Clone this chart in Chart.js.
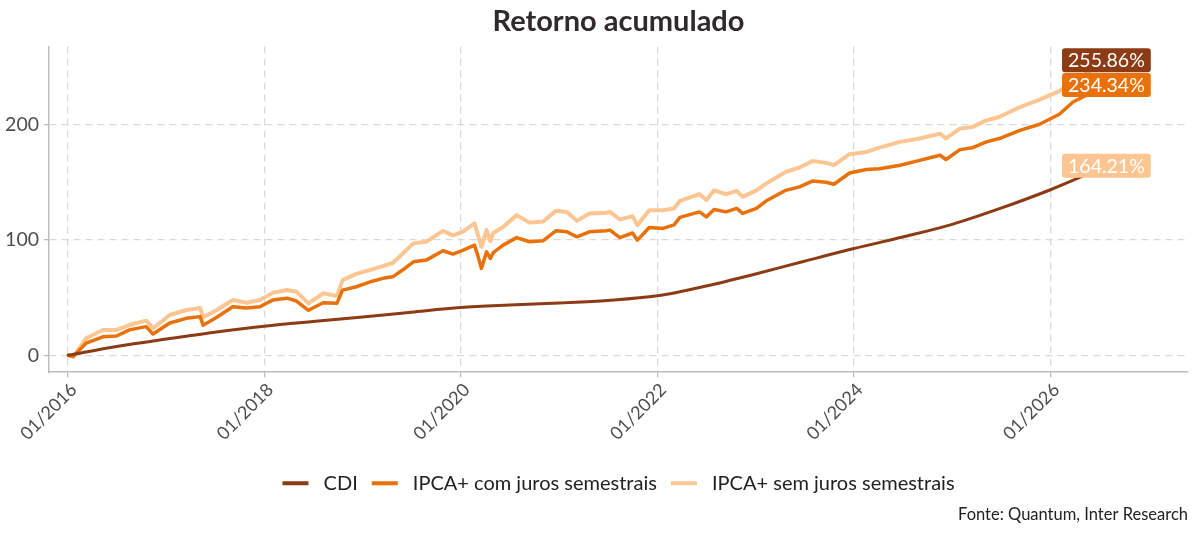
<!DOCTYPE html>
<html lang="pt-BR">
<head>
<meta charset="utf-8">
<title>Retorno acumulado</title>
<script src="https://cdn.jsdelivr.net/npm/chart.js@4.4.1/dist/chart.umd.min.js"></script>
<style>
  html, body { margin: 0; padding: 0; background: #fff; }
  #wrap { position: relative; width: 1200px; height: 533px; }
</style>
</head>
<body>
<div id="wrap"><canvas id="chart"></canvas></div>
<script>
var seriesNames = ["CDI", "IPCA+ com juros semestrais", "IPCA+ sem juros semestrais"];
var seriesColors = ["#8c3b14", "#e8710a", "#fdc591"];
// end labels in the original are filled in reverse palette order
var labelFills = ["#fdc591", "#e8710a", "#8c3b14"];

var tickYears = [2016, 2018, 2020, 2022, 2024, 2026];
var yTicks = [0, 100, 200];

var cdiDates = [
  "2016-01-04", "2016-07-01", "2017-01-01", "2017-07-01", "2018-01-01", "2018-07-01",
  "2019-01-01", "2019-07-01", "2020-01-01", "2020-07-01", "2021-01-01", "2021-07-01",
  "2022-01-01", "2022-07-01", "2023-01-01", "2023-07-01", "2024-01-01", "2024-07-01",
  "2025-01-01", "2025-07-01", "2026-01-01", "2026-07-28"
];
var cdiValues = [
  0, 7.5, 14, 20, 25.2, 29.3, 33.2, 37.3, 41.3, 43.5, 45.3, 47.5,
  51.5, 60, 70.5, 81.5, 92.5, 102.5, 113.5, 127.5, 143.5, 164.21
];

var ipcaDates = [
  "2016-01-04", "2016-01-22", "2016-03-10", "2016-05-11", "2016-07-01", "2016-08-18", "2016-10-19", "2016-11-14", "2017-01-15", "2017-03-18",
  "2017-05-08", "2017-05-19", "2017-07-09", "2017-09-06", "2017-10-27", "2017-12-16", "2018-02-03", "2018-03-26", "2018-05-01", "2018-06-14",
  "2018-08-08", "2018-09-28", "2018-10-19", "2018-12-09", "2019-01-30", "2019-03-18", "2019-04-23", "2019-05-30", "2019-07-09", "2019-08-26",
  "2019-10-27", "2019-12-03", "2020-01-08", "2020-02-21", "2020-03-04", "2020-03-18", "2020-04-06", "2020-04-20", "2020-05-01", "2020-06-07",
  "2020-07-27", "2020-09-13", "2020-11-03", "2020-12-20", "2021-01-30", "2021-03-08", "2021-04-24", "2021-06-25", "2021-07-09", "2021-08-15",
  "2021-10-01", "2021-10-19", "2021-12-02", "2022-01-22", "2022-03-04", "2022-03-26", "2022-06-07", "2022-07-02", "2022-07-31", "2022-09-13",
  "2022-10-23", "2022-11-14", "2023-01-04", "2023-02-10", "2023-04-23", "2023-06-13", "2023-07-31", "2023-09-20", "2023-10-19", "2023-12-16",
  "2024-02-17", "2024-04-05", "2024-06-21", "2024-09-02", "2024-11-17", "2024-12-09", "2025-01-30", "2025-03-18", "2025-05-08", "2025-06-25",
  "2025-09-10", "2025-11-22", "2026-02-03", "2026-03-26", "2026-07-28"
];
var ipcaComValues = [
  0, -1, 10.6, 16, 16.7, 22, 24.8, 18.4, 28, 32,
  33.5, 26, 33, 42, 41, 42, 48, 49.5, 47, 39,
  45.5, 45, 56.5, 59.4, 63.7, 66.7, 68, 73.9, 81, 82.5,
  90.6, 87.7, 91, 95.5, 86.8, 75.3, 89.7, 84, 89, 95.5,
  102, 98.4, 99.3, 107.9, 107, 102.7, 107, 108, 108.5, 102,
  106, 99.8, 110.8, 110, 113, 119.5, 124.3, 120, 126.4, 124.3,
  127.3, 123, 127.3, 133.9, 143, 146, 151, 150, 148.3, 158,
  161, 161.7, 164.8, 169, 173.4, 169.7, 178.3, 180, 185, 187.9,
  195, 200.3, 209, 219.6, 234.34
];
var ipcaSemValues = [
  0, -1.5, 14.7, 21.9, 21.9, 26.2, 30, 23.4, 34.9, 39.2,
  41, 32.9, 39.2, 47.9, 45.5, 47.9, 54.2, 56.5, 55, 45,
  53.7, 51.3, 65.2, 70.5, 74, 77.3, 80, 88, 97, 98.4,
  107.9, 104, 107, 114.3, 105, 94, 108.5, 99, 106, 111.3,
  121.5, 115, 116, 125.2, 124.3, 116.5, 123, 123.5, 124.3, 117.7,
  120.6, 112.8, 125.8, 125.8, 127.3, 133.9, 139.7, 134.5, 143, 139.7,
  142.5, 137.3, 143, 149, 159, 162.8, 168.5, 166.8, 164.8, 174.3,
  176.3, 180, 185, 187.9, 192.2, 188, 196.5, 198, 203.7, 206.6,
  215.2, 221.6, 229, 237, 255.86
];

function toYear(s) {
  var d = Date.parse(s + "T00:00:00Z");
  var y = new Date(d).getUTCFullYear();
  var start = Date.UTC(y, 0, 1);
  var end = Date.UTC(y + 1, 0, 1);
  return y + (d - start) / (end - start);
}

function points(dates, values) {
  return dates.map(function (d, i) {
    return { x: toYear(d), y: values[i] };
  });
}

var lineWidths = [3, 3.5, 4];
var seriesData = [
  points(cdiDates, cdiValues),
  points(ipcaDates, ipcaComValues),
  points(ipcaDates, ipcaSemValues)
];

var endLabels = {
  id: "endLabels",
  afterDatasetsDraw: function (chart) {
    var ctx = chart.ctx;
    var xs = chart.scales.x;
    var ys = chart.scales.y;
    ctx.save();
    ctx.font = "19.5px Lato";
    ctx.textAlign = "center";
    ctx.textBaseline = "middle";
    chart.data.datasets.forEach(function (ds, i) {
      var last = ds.data[ds.data.length - 1];
      var cx = xs.getPixelForValue(last.x);
      var cy = ys.getPixelForValue(last.y);
      var text = last.y.toFixed(2) + "%";
      var w = ctx.measureText(text).width + 12;
      var h = 24;
      ctx.fillStyle = labelFills[i];
      ctx.beginPath();
      ctx.roundRect(cx - w / 2, cy - h / 2, w, h, 3);
      ctx.fill();
      ctx.fillStyle = "#ffffff";
      ctx.fillText(text, cx, cy + 1);
    });
    ctx.restore();
  }
};

// title and legend sit centred over the plot panel rather than the canvas
var centreOnPanel = {
  id: "centreOnPanel",
  afterLayout: function (chart) {
    var area = chart.chartArea;
    [chart.titleBlock, chart.legend].forEach(function (box) {
      if (!box) return;
      var shift = (area.left + area.right) / 2 - (box.left + box.right) / 2;
      box.left += shift;
      box.right += shift;
    });
  }
};

var gridColor = "#d9d9d9";
var axisColor = "#bdbdbd";

new Chart(document.getElementById("chart"), {
  type: "line",
  data: {
    datasets: seriesNames.map(function (name, i) {
      return {
        label: name,
        data: seriesData[i],
        borderColor: seriesColors[i],
        backgroundColor: seriesColors[i],
        borderWidth: lineWidths[i],
        pointRadius: 0,
        tension: i === 0 ? 0.4 : 0,
        cubicInterpolationMode: i === 0 ? "monotone" : "default",
        borderJoinStyle: "round",
        borderCapStyle: "round",
        fill: false
      };
    })
  },
  options: {
    responsive: true,
    maintainAspectRatio: false,
    animation: false,
    layout: { padding: { top: 4, right: 12, bottom: 4, left: 0 } },
    plugins: {
      title: {
        display: true,
        text: "Retorno acumulado",
        color: "#302a2a",
        font: { family: "Lato", size: 29, weight: "bold" },
        padding: { top: 0, bottom: 7.6 }
      },
      subtitle: {
        display: true,
        position: "bottom",
        align: "end",
        text: "Fonte: Quantum, Inter Research",
        color: "#222222",
        font: { family: "Lato", size: 16.5 },
        padding: { top: 2, bottom: 4 }
      },
      legend: {
        position: "bottom",
        labels: {
          boxWidth: 26,
          boxHeight: 4,
          padding: 14,
          color: "#222222",
          font: { family: "Lato", size: 20 },
          generateLabels: function (chart) {
            return Chart.defaults.plugins.legend.labels.generateLabels(chart).map(function (item) {
              item.lineWidth = 0;
              item.text = " " + item.text;
              return item;
            });
          }
        }
      },
      tooltip: { enabled: false }
    },
    scales: {
      x: {
        type: "linear",
        min: 2015.81,
        max: 2027.4,
        afterBuildTicks: function (axis) {
          axis.ticks = tickYears.map(function (v) { return { value: v }; });
        },
        afterFit: function (axis) { axis.height = 87; },
        ticks: {
          autoSkip: false,
          minRotation: 45,
          maxRotation: 45,
          labelOffset: 6,
          color: "#4d4d4d",
          font: { family: "Lato", size: 18 },
          padding: 2,
          callback: function (value) { return "01/" + value; }
        },
        grid: { color: gridColor, lineWidth: 1.3, tickLength: 5, tickColor: axisColor, tickWidth: 1.3 },
        border: { display: true, color: axisColor, width: 1.5, dash: [7, 5] }
      },
      y: {
        min: -14.7,
        max: 267.8,
        afterBuildTicks: function (axis) {
          axis.ticks = yTicks.map(function (v) { return { value: v }; });
        },
        afterFit: function (axis) { axis.width = 49; },
        ticks: {
          color: "#4d4d4d",
          font: { family: "Lato", size: 19.5 },
          padding: 5
        },
        grid: { color: gridColor, lineWidth: 1.3, tickLength: 5, tickColor: axisColor, tickWidth: 1.3 },
        border: { display: true, color: axisColor, width: 1.5, dash: [7, 5] }
      }
    }
  },
  plugins: [endLabels, centreOnPanel]
});
</script>
</body>
</html>
